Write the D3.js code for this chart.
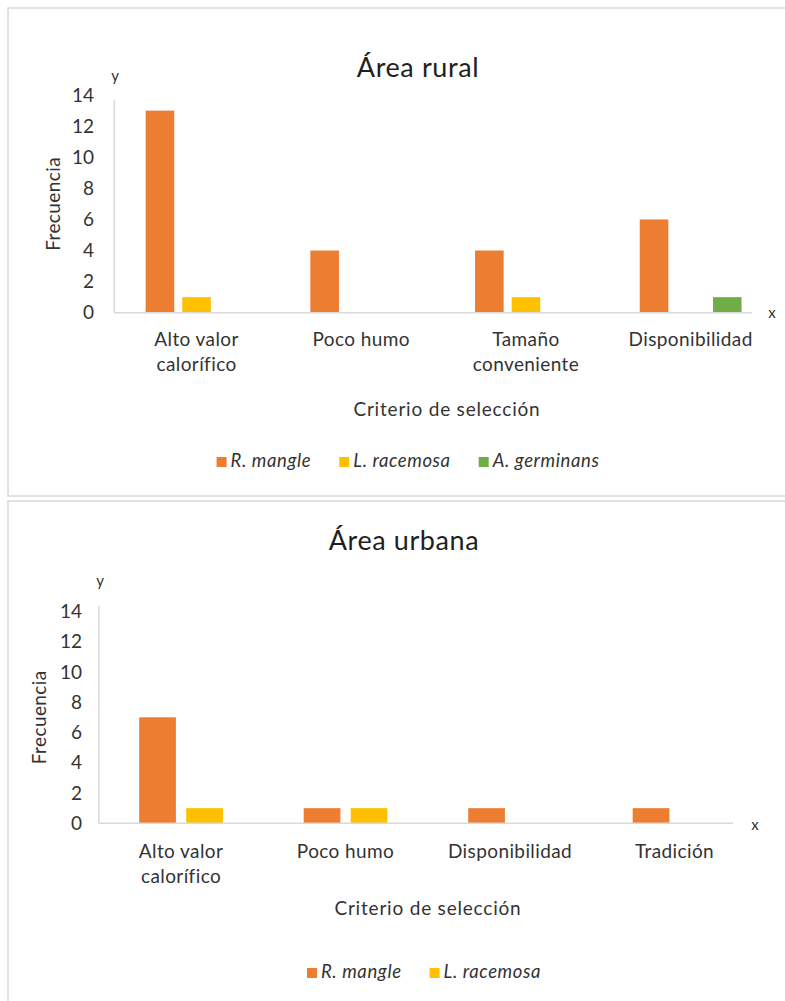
<!DOCTYPE html>
<html>
<head>
<meta charset="utf-8">
<script src="https://cdn.jsdelivr.net/npm/d3@7"></script>
<style>
  html, body { margin: 0; padding: 0; background: #fff; }
  svg { display: block; font-family: Lato, "Open Sans", sans-serif; }
</style>
</head>
<body>
<svg id="chart" width="785" height="1001"></svg>
<script>
// Fuelwood selection criteria by mangrove species (frequency of mentions)
const seriesNames = ["R. mangle", "L. racemosa", "A. germinans"];
const seriesColors = ["#ED7D31", "#FFC000", "#70AD47"];
const yTicks = [0, 2, 4, 6, 8, 10, 12, 14];

const ruralCategories = ["Alto valor\ncalorífico", "Poco humo", "Tamaño\nconveniente", "Disponibilidad"];
const ruralRMangle = [13, 4, 4, 6];
const ruralLRacemosa = [1, 0, 1, 0];
const ruralAGerminans = [0, 0, 0, 1];

const urbanCategories = ["Alto valor\ncalorífico", "Poco humo", "Disponibilidad", "Tradición"];
const urbanRMangle = [7, 1, 1, 1];
const urbanLRacemosa = [1, 1, 0, 0];

const panels = [
  {
    title: "Área rural", titleX: 418, titleY: 77,
    frame: [8, 8, 800, 488],
    categories: ruralCategories,
    series: [ruralRMangle, ruralLRacemosa, ruralAGerminans],
    x0: 114.2, x1: 773, yBase: 312.7, yTop: 95.1,
    axisEndX: 752, yAxisStartY: 100,
    tickRight: 94, yTitleX: 53,
    catY: 346, xTitleX: 447, xTitleY: 416,
    legendX: 408, legendY: 467,
    yLabel: [115, 81], xLabel: [772, 318]
  },
  {
    title: "Área urbana", titleX: 404, titleY: 550,
    frame: [8, 501, 800, 520],
    categories: urbanCategories,
    series: [urbanRMangle, urbanLRacemosa],
    x0: 98.8, x1: 756.8, yBase: 823.3, yTop: 611.3,
    axisEndX: 733, yAxisStartY: 606,
    tickRight: 82, yTitleX: 39,
    catY: 858, xTitleX: 428, xTitleY: 915,
    legendX: 424, legendY: 978,
    yLabel: [100, 586], xLabel: [755, 830]
  }
];

const svg = d3.select("#chart");
const textColor = "#333333";
const axisColor = "#D9D9D9";
const labelSize = 19, labelSpacing = "0.4px";
const gapWidth = 2.2, overlap = -0.28;

panels.forEach(p => {
  const g = svg.append("g");

  g.append("rect")
    .attr("x", p.frame[0]).attr("y", p.frame[1])
    .attr("width", p.frame[2]).attr("height", p.frame[3])
    .attr("fill", "#fff").attr("stroke", "#D9D9D9").attr("stroke-width", 1.5);

  g.append("text")
    .attr("x", p.titleX).attr("y", p.titleY)
    .attr("text-anchor", "middle")
    .attr("font-size", 27).attr("letter-spacing", "0.6px").attr("fill", "#1f1f1f")
    .text(p.title);

  const nSeries = p.series.length;
  const x = d3.scaleBand().domain(p.categories).range([p.x0, p.x1]);
  const step = x.step();
  const barW = step / (nSeries + (nSeries - 1) * -overlap + gapWidth);
  const inner = barW * -overlap;
  const groupW = nSeries * barW + (nSeries - 1) * inner;
  const xs = d3.scaleBand()
    .domain(d3.range(nSeries))
    .range([(step - groupW) / 2, (step + groupW) / 2])
    .paddingInner(inner / (barW + inner));

  const y = d3.scaleLinear().domain([0, 14]).range([p.yBase, p.yTop]);

  // value axis line and tick labels
  g.append("line")
    .attr("x1", p.x0).attr("x2", p.x0)
    .attr("y1", p.yAxisStartY).attr("y2", y(0))
    .attr("stroke", axisColor).attr("stroke-width", 1.5);

  g.selectAll(".ytick").data(yTicks).join("text")
    .attr("x", p.tickRight).attr("y", d => y(d))
    .attr("dy", "0.35em")
    .attr("text-anchor", "end")
    .attr("font-size", labelSize).attr("fill", textColor)
    .text(d => d);

  g.append("text")
    .attr("transform", `translate(${p.yTitleX},${(y(0) + y(14)) / 2}) rotate(-90)`)
    .attr("text-anchor", "middle").attr("dy", "0.35em")
    .attr("font-size", labelSize).attr("letter-spacing", labelSpacing).attr("fill", textColor)
    .text("Frecuencia");

  // bars: one rect per non-zero value
  p.series.forEach((vals, si) => {
    const pts = vals.map((v, i) => ({ cat: p.categories[i], v })).filter(d => d.v > 0);
    g.selectAll(".bar" + si).data(pts).join("rect")
      .attr("x", d => x(d.cat) + xs(si))
      .attr("y", d => y(d.v))
      .attr("width", xs.bandwidth())
      .attr("height", d => y(0) - y(d.v))
      .attr("fill", seriesColors[si]);
  });

  // category axis line
  g.append("line")
    .attr("x1", p.x0).attr("x2", p.axisEndX)
    .attr("y1", y(0)).attr("y2", y(0))
    .attr("stroke", axisColor).attr("stroke-width", 1.5);

  p.categories.forEach(c => {
    const t = g.append("text")
      .attr("text-anchor", "middle")
      .attr("font-size", labelSize).attr("letter-spacing", labelSpacing).attr("fill", textColor);
    c.split("\n").forEach((line, li) => {
      t.append("tspan")
        .attr("x", x(c) + step / 2)
        .attr("y", p.catY + li * 25)
        .text(line);
    });
  });

  g.append("text")
    .attr("x", p.xTitleX).attr("y", p.xTitleY)
    .attr("text-anchor", "middle")
    .attr("font-size", labelSize).attr("letter-spacing", "0.8px").attr("fill", textColor)
    .text("Criterio de selección");

  // axis letters
  g.append("text")
    .attr("x", p.yLabel[0]).attr("y", p.yLabel[1])
    .attr("text-anchor", "middle")
    .attr("font-size", 15).attr("fill", textColor)
    .text("y");
  g.append("text")
    .attr("x", p.xLabel[0]).attr("y", p.xLabel[1])
    .attr("text-anchor", "middle")
    .attr("font-size", 15).attr("fill", textColor)
    .text("x");

  // legend
  const leg = g.append("g");
  let cx = 0;
  seriesNames.slice(0, nSeries).forEach((name, si) => {
    const item = leg.append("g").attr("transform", `translate(${cx},0)`);
    item.append("rect")
      .attr("x", 0).attr("y", p.legendY - 10)
      .attr("width", 10).attr("height", 10)
      .attr("fill", seriesColors[si]);
    const t = item.append("text")
      .attr("x", 14).attr("y", p.legendY)
      .attr("font-size", 18.5).attr("font-style", "italic")
      .attr("letter-spacing", "0.6px")
      .attr("fill", textColor)
      .text(name);
    cx += 14 + t.node().getComputedTextLength() + 28;
  });
  const legW = cx - 28;
  leg.attr("transform", `translate(${p.legendX - legW / 2},0)`);
});
</script>
</body>
</html>
